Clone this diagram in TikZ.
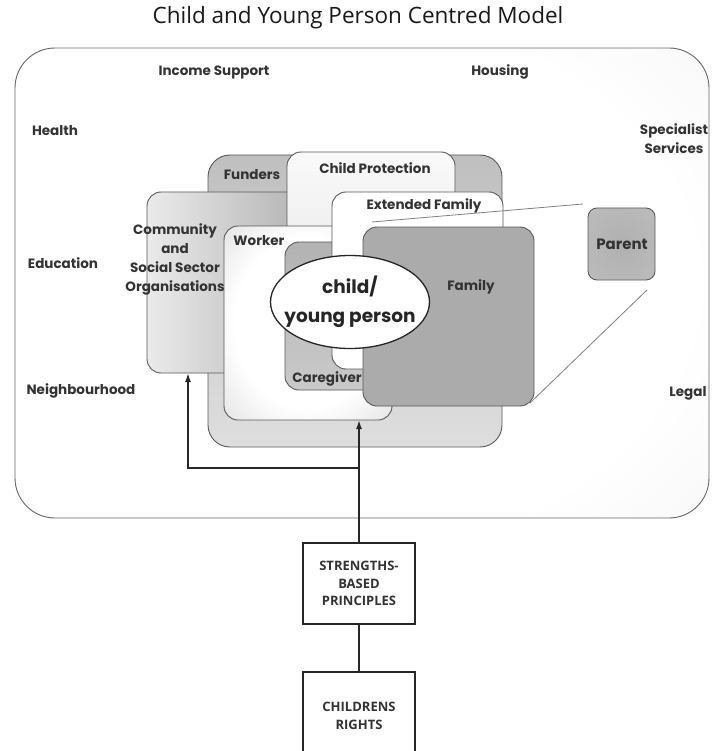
\documentclass[tikz,border=0pt]{standalone}
\usepackage{fontspec}
\setmainfont{Poppins}
\newfontfamily\titlefont{Open Sans}
\newfontfamily\capsfont{Open Sans}
\usetikzlibrary{arrows.meta,shapes.geometric,calc}
\pgfdeclareradialshading{glow}{\pgfpoint{0bp}{0bp}}{color(0bp)=(white); color(22bp)=(white); color(48bp)=(black!20); color(72bp)=(black!26)}
\pgfdeclareradialshading{envglow}{\pgfpoint{-10bp}{0bp}}{color(0bp)=(white); color(30bp)=(white); color(55bp)=(black!7); color(80bp)=(black!10)}
\pgfdeclareradialshading{parentglow}{\pgfpoint{0bp}{0bp}}{color(0bp)=(black!31); color(30bp)=(black!27); color(50bp)=(black!18); color(72bp)=(black!18)}
\begin{document}
\begin{tikzpicture}[x=1pt,y=-1pt,
  every node/.style={inner sep=0pt, outer sep=0pt},
  box/.style={draw=black!65, line width=0.9pt, rounded corners=14pt, anchor=north west},
  lbl/.style={font=\bfseries\fontsize{13.5}{19}\selectfont, text=black!80, align=center},
  capsbox/.style={draw=black!85, line width=1.8pt, fill=white, minimum width=112pt, font=\capsfont\bfseries\fontsize{13}{17.5}\selectfont, align=center, text=black!80},
  conn/.style={draw=black!85, line width=1.6pt},
  arr/.style={conn, -{Latex[length=9pt,width=6pt]}},
  zoomline/.style={draw=black!50, line width=0.8pt}
]
\useasboundingbox (0,0) rectangle (711,751);

\node[font=\titlefont\fontsize{22.5}{26}\selectfont, text=black!90] (title) at (358,18) {Child and Young Person Centred Model};

% outer environment
\node[box, rounded corners=40pt, minimum width=694pt, minimum height=470pt, draw=black!60, shade, shading=envglow] (outerbox) at (15,48) {};

% layered boxes
\node[box, rounded corners=22pt, minimum width=294pt, minimum height=292pt, shade, top color=black!25, bottom color=black!13] (funders) at (208,155) {};
\node[box, minimum width=160pt, minimum height=181pt, shade, left color=black!8, right color=black!30] (community) at (147,192) {};
\node[box, minimum width=168pt, minimum height=230pt, shade, top color=black!2, bottom color=black!14] (cp) at (287,152) {};
\node[box, minimum width=168pt, minimum height=194pt, shade, shading=glow] (worker) at (224,226) {};
\node[box, minimum width=105pt, minimum height=148pt, shade, top color=black!30, bottom color=black!21] (caregiver) at (285,242) {};
\node[box, minimum width=171pt, minimum height=177pt, fill=white] (extfam) at (332,192) {};
\node[box, minimum width=171pt, minimum height=179pt, fill=black!33] (family) at (363,227) {};
\node[box, rounded corners=9pt, minimum width=67pt, minimum height=72pt, shade, shading=parentglow] (parent) at (588,208) {};

% zoom lines family -> parent
\draw[zoomline] ($(family.north west)+(9,-5)$) -- ($(parent.north west)+(-5,-4)$);
\draw[zoomline] ($(family.south east)+(-4,-3)$) -- ($(parent.south east)+(-8,10)$);

\node[ellipse, draw=black!85, line width=1.3pt, fill=white, minimum width=159pt, minimum height=93pt] (child) at (350,302) {};
\node[font=\bfseries\fontsize{18.5}{29}\selectfont, align=center, text=black!85] (lchild) at (child.center) {child/\\young person};

% labels
\node[lbl] (lincome) at (214,72) {Income Support};
\node[lbl] (lhousing) at (500,72) {Housing};
\node[lbl] (lhealth) at (55,131) {Health};
\node[lbl] (lspec) at (674,139) {Specialist\\Services};
\node[lbl] (ledu) at (63,263) {Education};
\node[lbl] (lneigh) at (81,391) {Neighbourhood};
\node[lbl] (llegal) at (688,393) {Legal};
\node[lbl] (lfunders) at (252,175) {Funders};
\node[lbl] (lcp) at (375,168) {Child Protection};
\node[lbl] (lcomm) at (175,259) {Community\\and\\Social Sector\\Organisations};
\node[lbl] (lworker) at (259,241) {Worker};
\node[lbl] (lext) at (424,206) {Extended Family};
\node[lbl] (lfamily) at (471,287) {Family};
\node[lbl] (lcare) at (327,379) {Caregiver};
\node[lbl, font=\bfseries\fontsize{15}{19}\selectfont] (lparent) at (622,244) {Parent};

% principles
\node[capsbox, minimum height=81pt] (sbp) at (359,583.5) {STRENGTHS-\\BASED\\PRINCIPLES};
\node[capsbox, minimum height=88pt, anchor=north] (rights) at (359,672) {CHILDRENS\\RIGHTS};

\draw[conn] (sbp.south) -- (rights.north);
\draw[arr] (sbp.north) -- (sbp.north |- worker.south);
\coordinate (branch) at ($(sbp.north)+(0,-75)$);
\coordinate (commfoot) at ($(community.south west)+(41,0)$);
\draw[arr] (branch) -| (commfoot);
\end{tikzpicture}
\end{document}
